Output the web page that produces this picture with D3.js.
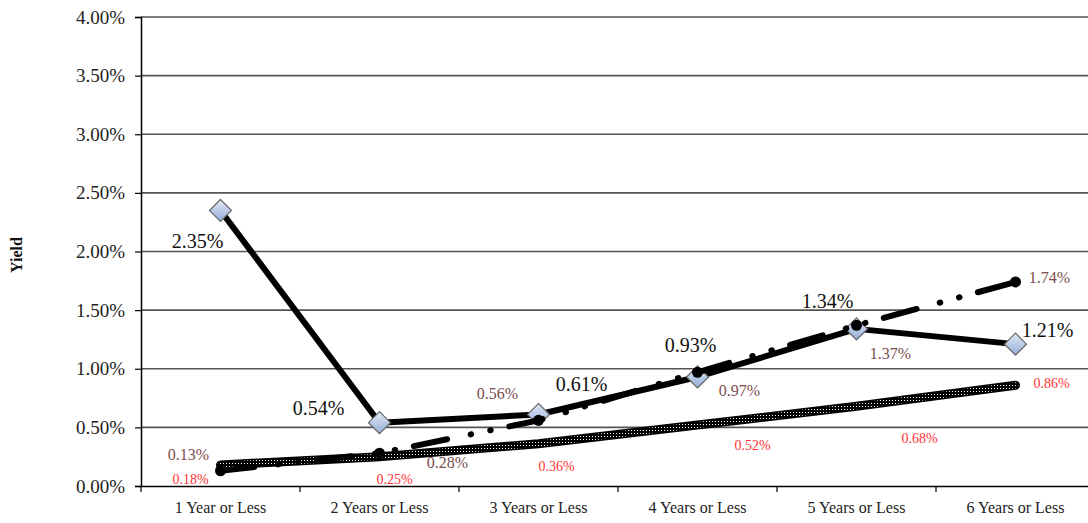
<!DOCTYPE html>
<html>
<head>
<meta charset="utf-8">
<script src="https://cdn.jsdelivr.net/npm/d3@7"></script>
<style>
  html, body { margin: 0; padding: 0; background: #fff; }
  svg { display: block; font-family: "Liberation Serif", "Times New Roman", serif; }
</style>
</head>
<body>
<svg id="chart" width="1088" height="523"></svg>
<script>
// Maturity buckets along the x axis
const categories = ["1 Year or Less", "2 Years or Less", "3 Years or Less",
                    "4 Years or Less", "5 Years or Less", "6 Years or Less"];

// Yields in percent for each series
const solidYields   = [2.35, 0.54, 0.61, 0.93, 1.34, 1.21];
const dashDotYields = [0.13, 0.28, 0.56, 0.97, 1.37, 1.74];
const hatchYields   = [0.18, 0.25, 0.36, 0.52, 0.68, 0.86];

// Y axis tick values (percent)
const yTicks = [0, 0.5, 1, 1.5, 2, 2.5, 3, 3.5, 4];

// Label placement offsets (dx, dy) from each point
const solidLabelOffsets   = [[-23, 38], [-61, -8], [43, -23], [-7, -25], [-29, -21], [32, -7]];
const dashDotLabelOffsets = [[-32, -11], [68, 15], [-41, -21], [42, 24], [34, 34], [34, 1]];
const hatchLabelOffsets   = [[-30, 19], [15, 27], [18, 27], [55, 25], [63, 37], [36, 3]];

const svg = d3.select("#chart");
const margin = { left: 141, top: 17, bottom: 486, right: 1095 };

const x = d3.scaleBand().domain(categories).range([margin.left, margin.right]).padding(0);
const y = d3.scaleLinear().domain([0, 4]).range([margin.bottom, margin.top]);
const cx = c => x(c) + x.bandwidth() / 2;

const defs = svg.append("defs");
const grad = defs.append("linearGradient").attr("id", "diamondFill")
  .attr("x1", 0).attr("y1", 0).attr("x2", 0).attr("y2", 1);
grad.append("stop").attr("offset", "0%").attr("stop-color", "#e2eaf7");
grad.append("stop").attr("offset", "100%").attr("stop-color", "#93acd6");

const hatch = defs.append("pattern").attr("id", "hatch")
  .attr("patternUnits", "userSpaceOnUse").attr("width", 3).attr("height", 3);
hatch.append("rect").attr("width", 3).attr("height", 3).attr("fill", "#000");
hatch.append("rect").attr("x", 1).attr("y", 1).attr("width", 1).attr("height", 1).attr("fill", "#fff");

// Horizontal gridlines
svg.append("g").selectAll("line").data(yTicks.filter(t => t > 0)).join("line")
  .attr("x1", margin.left).attr("x2", 1088)
  .attr("y1", d => y(d)).attr("y2", d => y(d))
  .attr("stroke", "#555").attr("stroke-width", 1.6);

// Y axis
const yAxis = svg.append("g").attr("transform", `translate(${margin.left},0)`)
  .call(d3.axisLeft(y).tickValues(yTicks).tickFormat(d => d.toFixed(2) + "%").tickSize(6).tickPadding(10));
yAxis.select(".domain").attr("stroke", "#000").attr("stroke-width", 1.5);
yAxis.selectAll(".tick line").attr("stroke", "#000").attr("stroke-width", 1.2);
yAxis.selectAll(".tick text").attr("font-size", 19).attr("fill", "#222")
  .attr("font-family", "'Liberation Serif', 'Times New Roman', serif");

// X axis
const xAxis = svg.append("g").attr("transform", `translate(0,${margin.bottom})`)
  .call(d3.axisBottom(x).tickSize(0).tickPadding(16));
xAxis.select(".domain").attr("stroke", "#000").attr("stroke-width", 1.6);
xAxis.selectAll(".tick text").attr("font-size", 16).attr("fill", "#222")
  .attr("font-family", "'Liberation Serif', 'Times New Roman', serif");
// Tick marks at category boundaries
svg.append("g").selectAll("line").data(categories).join("line")
  .attr("x1", d => x(d)).attr("x2", d => x(d))
  .attr("y1", margin.bottom).attr("y2", margin.bottom + 6)
  .attr("stroke", "#000").attr("stroke-width", 1.2);

// Y axis title
svg.append("text")
  .attr("transform", "translate(22,255) rotate(-90)")
  .attr("text-anchor", "middle")
  .attr("font-size", 16).attr("font-weight", "bold").attr("fill", "#111")
  .text("Yield");

const line = d3.line().x((d, i) => cx(categories[i])).y(d => y(d));

// Hatched series
svg.append("path").datum(hatchYields).attr("d", line)
  .attr("fill", "none").attr("stroke", "#000").attr("stroke-width", 9)
  .attr("stroke-linecap", "round");
svg.append("path").datum(hatchYields).attr("d", line)
  .attr("fill", "none").attr("stroke", "url(#hatch)").attr("stroke-width", 6)
  .attr("stroke-linecap", "round");

// Solid series with diamond markers
svg.append("path").datum(solidYields).attr("d", line)
  .attr("fill", "none").attr("stroke", "#000").attr("stroke-width", 6)
  .attr("stroke-linejoin", "round");
svg.append("g").selectAll("path").data(solidYields).join("path")
  .attr("d", "M0,-11L11,0L0,11L-11,0Z")
  .attr("transform", (d, i) => `translate(${cx(categories[i])},${y(d)})`)
  .attr("fill", "url(#diamondFill)").attr("stroke", "#666").attr("stroke-width", 1.2);

// Dash-dot series with circle markers
svg.append("path").datum(dashDotYields).attr("d", line)
  .attr("fill", "none").attr("stroke", "#000").attr("stroke-width", 6)
  .attr("stroke-linecap", "round")
  .attr("stroke-dasharray", "34 24 0.5 19.5 0.5 19");
svg.append("g").selectAll("circle").data(dashDotYields).join("circle")
  .attr("cx", (d, i) => cx(categories[i])).attr("cy", d => y(d))
  .attr("r", 5.5).attr("fill", "#000");

// Value labels
function labels(values, offsets, size, color) {
  svg.append("g").selectAll("text").data(values).join("text")
    .attr("x", (d, i) => cx(categories[i]) + offsets[i][0])
    .attr("y", (d, i) => y(d) + offsets[i][1])
    .attr("text-anchor", "middle")
    .attr("font-size", size).attr("fill", color)
    .text(d => d.toFixed(2) + "%");
}
labels(hatchYields, hatchLabelOffsets, 14, "#ff3333");
labels(dashDotYields, dashDotLabelOffsets, 16, "#7a4c4c");
labels(solidYields, solidLabelOffsets, 20, "#111");
</script>
</body>
</html>
